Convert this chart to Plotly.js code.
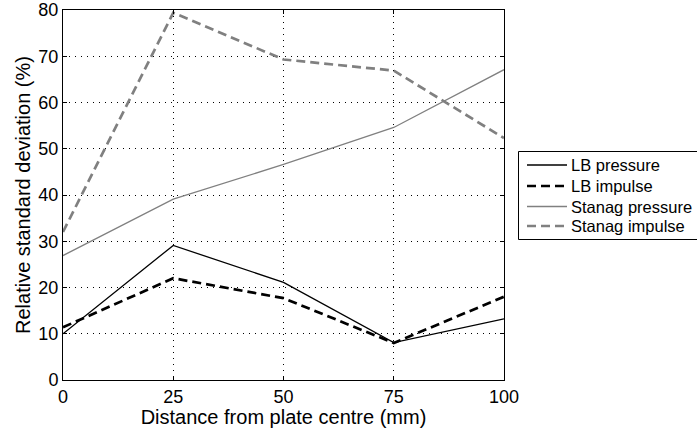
<!DOCTYPE html>
<html>
<head>
<meta charset="utf-8">
<script src="https://cdn.plot.ly/plotly-3.0.1.min.js"></script>
<style>html,body{margin:0;padding:0;background:#fff;}#chart{width:697px;height:428px;}</style>
</head>
<body>
<div id="chart"></div>
<script>
const distance = [0, 25, 50, 75, 100];
const lbPressure = [10.0, 29.1, 21.1, 8.1, 13.2];
const lbImpulse = [11.4, 22.0, 17.7, 8.0, 18.0];
const stanagPressure = [26.9, 39.1, 46.6, 54.6, 67.1];
const stanagImpulse = [32.0, 79.4, 69.3, 66.9, 52.3];
const seriesNames = ['LB pressure', 'LB impulse', 'Stanag pressure', 'Stanag impulse'];
const xTicks = [0, 25, 50, 75, 100];
const yTicks = [0, 10, 20, 30, 40, 50, 60, 70, 80];

const styles = [
  {color: '#000000', width: 1.3, dash: 'solid'},
  {color: '#000000', width: 2.7, dash: '9px,5px'},
  {color: '#808080', width: 1.3, dash: 'solid'},
  {color: '#808080', width: 2.7, dash: '9px,5px'}
];
const seriesValues = [lbPressure, lbImpulse, stanagPressure, stanagImpulse];

const traces = seriesValues.map((vals, i) => ({
  x: distance, y: vals, name: seriesNames[i], mode: 'lines',
  line: styles[i], showlegend: false
}));

const FONT = 'Liberation Sans, Arial, sans-serif';
const W = 697, H = 428, ML = 63, MR = 193, MT = 10, MB = 48;
const PW = W - ML - MR, PH = H - MT - MB;
const px2x = px => (px - ML) / PW;
const py2y = py => (H - MB - py) / PH;

// legend drawn as box + sample lines + labels (layout pixels)
const legTop = 151.5, legBottom = 239.5, legLeft = 518.5;
const legItemY = [165, 186, 206.5, 226];
const shapes = [{
  type: 'rect', xref: 'paper', yref: 'paper',
  x0: px2x(legLeft), x1: px2x(720), y0: py2y(legBottom), y1: py2y(legTop),
  line: {color: '#000', width: 1}, fillcolor: '#fff', layer: 'above'
}];
const annotations = [];
seriesNames.forEach((name, i) => {
  shapes.push({
    type: 'line', xref: 'paper', yref: 'paper',
    x0: px2x(527), x1: px2x(567), y0: py2y(legItemY[i]), y1: py2y(legItemY[i]),
    line: styles[i], layer: 'above'
  });
  annotations.push({
    xref: 'paper', yref: 'paper', x: px2x(569), y: py2y(legItemY[i]),
    xanchor: 'left', yanchor: 'middle', showarrow: false, text: name,
    font: {family: FONT, size: 16.5, color: '#000'}
  });
});

const axisCommon = {
  showline: true, linecolor: '#000', linewidth: 1, mirror: 'ticks',
  ticks: 'inside', ticklen: 4, tickcolor: '#000',
  showgrid: true, gridcolor: '#000', griddash: '1px,5px', gridwidth: 1,
  zeroline: false,
  tickfont: {family: FONT, size: 18, color: '#000'}
};

const layout = {
  width: W, height: H,
  margin: {l: ML, r: MR, t: MT, b: MB, autoexpand: false},
  paper_bgcolor: '#fff', plot_bgcolor: '#fff',
  font: {family: FONT, color: '#000'},
  showlegend: false,
  xaxis: Object.assign({}, axisCommon, {
    range: [0, 100], tickmode: 'array', tickvals: xTicks, ticktext: xTicks.map(String),
    title: {text: 'Distance from plate centre (mm)', font: {family: FONT, size: 20, color: '#000'}, standoff: 2}
  }),
  yaxis: Object.assign({}, axisCommon, {
    range: [0, 80], tickmode: 'array', tickvals: yTicks, ticktext: yTicks.map(String),
    title: {text: 'Relative standard deviation (%)', font: {family: FONT, size: 20, color: '#000'}, standoff: 2}
  }),
  shapes: shapes,
  annotations: annotations
};

Plotly.newPlot('chart', traces, layout, {displayModeBar: false, staticPlot: true});
</script>
</body>
</html>
